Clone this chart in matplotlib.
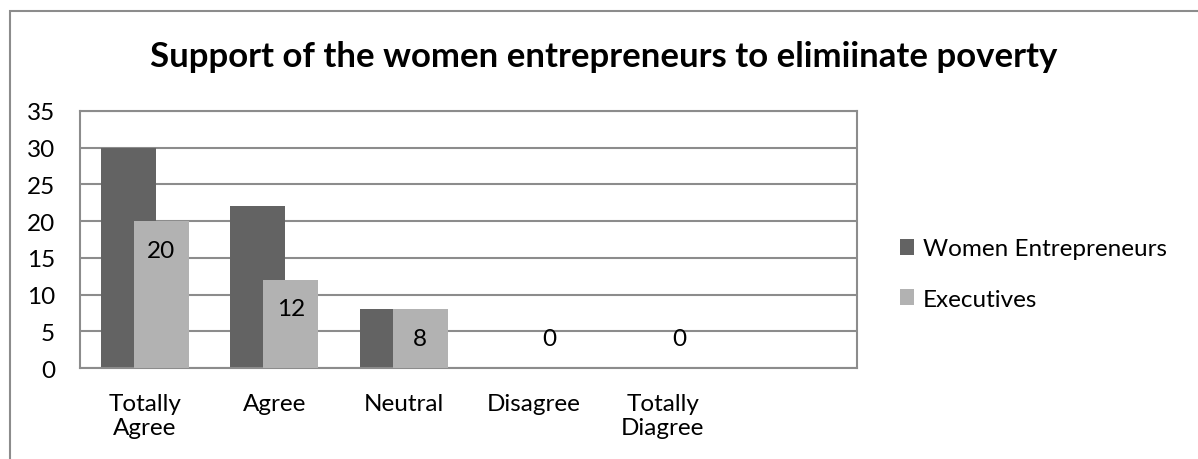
import matplotlib.pyplot as plt
import matplotlib.patches as patches
import numpy as np

categories = ["Totally\nAgree", "Agree", "Neutral", "Disagree", "Totally\nDiagree", ""]
women = [30, 22, 8, 0, 0]
executives = [20, 12, 8, 0, 0]
series_names = ["Women Entrepreneurs", "Executives"]

plt.rcParams['font.family'] = ['Lato', 'DejaVu Sans']

fig = plt.figure(figsize=(11.98, 4.6), dpi=100)
ax = fig.add_axes([80/1198, 1 - 369/460, (857 - 80)/1198, (369 - 112)/460])

dark = '#636363'
light = '#b2b2b2'
grid = '#8c8c8c'
fs = 17.5

x = np.arange(len(women))
w = 0.425
off = 0.1275
ax.bar(x - off, women, w, color=dark, label=series_names[0], zorder=2)
ax.bar(x + off, executives, w, color=light, label=series_names[1], zorder=3)

for xi, v in zip(x, executives):
    dy = -29 if v > 0 else 29
    ax.annotate(str(v), (xi + off, v), xytext=(0, dy * 0.72), textcoords='offset points',
                ha='center', va='center', fontsize=fs, color='black', zorder=4)

ax.set_xlim(-0.5, 5.5)
ax.set_ylim(0, 35)
ax.set_yticks(range(0, 36, 5))
ax.set_xticks(range(len(categories)))
ax.set_xticklabels(categories, fontsize=fs, linespacing=1.2)
ax.tick_params(axis='y', length=0, pad=18, labelsize=fs)
ax.tick_params(axis='x', length=0, pad=18)
ax.yaxis.grid(True, color=grid, lw=1.5, zorder=0)
ax.set_axisbelow(True)
for s in ax.spines.values():
    s.set_color(grid)
    s.set_linewidth(1.5)

fig.text(0.5 + 5/1198, 1 - 57/460, "Support of the women entrepreneurs to elimiinate poverty",
         ha='center', va='center', fontsize=25, fontweight='bold')

fig.legend(loc='center left', bbox_to_anchor=(878/1198, 1 - 275/460), frameon=False,
           fontsize=fs, handlelength=0.6, handleheight=0.6, handletextpad=0.35,
           labelspacing=1.2)

fig.add_artist(patches.Rectangle((10/1198, -0.1), 1.2, (448/460) + 0.1,
                                 transform=fig.transFigure, fill=False,
                                 ec='#8c8c8c', lw=1.5))

fig.savefig('out.png', dpi=100)
